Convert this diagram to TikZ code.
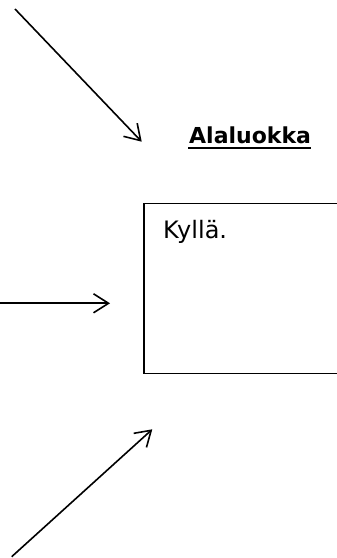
\documentclass[tikz,border=0pt]{standalone}
\usepackage{fontspec}
\setmainfont{DejaVu Sans}
\usetikzlibrary{arrows.meta}
\begin{document}
\begin{tikzpicture}[x=1pt,y=1pt,
  flow/.style={line width=1.6pt,-{Straight Barb[length=15pt,width=19pt,line width=1.6pt]}},
  labeltext/.style={inner sep=0pt,anchor=base west}]
\useasboundingbox (0,0) rectangle (337,558);
\clip (0,0) rectangle (337,558);

% free arrow ends
\coordinate (a1s) at (15,549);
\coordinate (a1e) at (141.7,416.3);
\coordinate (a2s) at (-2,254.7);
\coordinate (a2e) at (110,254.7);
\coordinate (a3s) at (11.7,1.3);
\coordinate (a3e) at (152.3,128.7);

\draw[flow] (a1s) -- (a1e);
\draw[flow] (a2s) -- (a2e);
\draw[flow] (a3s) -- (a3e);

% heading
\node[labeltext,font=\fontsize{22}{24}\selectfont\bfseries] (title) at (189,414) {Alaluokka};
\draw[line width=2.2pt] ([xshift=-1pt,yshift=-4pt]title.base west) -- ([xshift=0pt,yshift=-4pt]title.base east);

% box, running off the right edge
\draw[line width=1.8pt] (345,354.5) -- (144,354.5) -- (144,184.5) -- (345,184.5);
\node[labeltext,font=\fontsize{24}{28}\selectfont] (answer) at (163,319.7) {Kyllä.};
\end{tikzpicture}
\end{document}
